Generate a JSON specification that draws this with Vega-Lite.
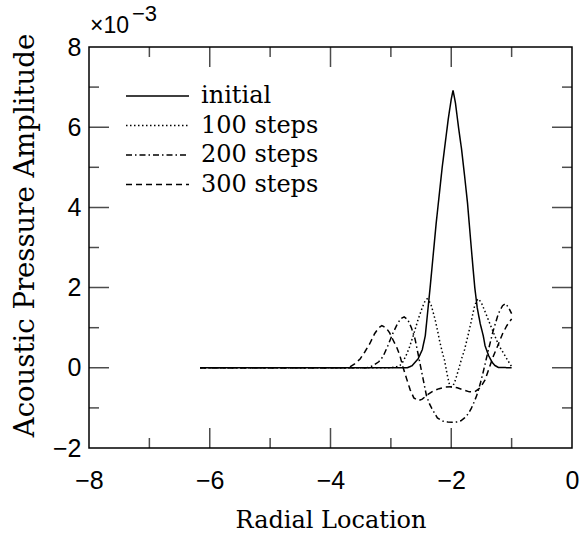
{
  "$schema": "https://vega.github.io/schema/vega-lite/v6.json",
  "width": 483,
  "height": 401,
  "autosize": {"type": "none"},
  "padding": {"left": 89, "top": 47, "right": 9, "bottom": 91},
  "background": "white",
  "config": {
    "view": {"stroke": "black", "strokeWidth": 1.5},
    "axis": {"domain": false, "grid": false, "tickColor": "black", "labelColor": "black", "titleColor": "black", "tickWidth": 1.5}
  },
  "datasets": {
    "xticks": [{"at": -7}, {"at": -6}, {"at": -5}, {"at": -4}, {"at": -3}, {"at": -2}, {"at": -1}],
    "yticks": [{"at": -1}, {"at": 0}, {"at": 1}, {"at": 2}, {"at": 3}, {"at": 4}, {"at": 5}, {"at": 6}, {"at": 7}]
  },
  "data": {"values": [
    {"series": "initial", "location": -6.16, "amplitude": 0},
    {"series": "initial", "location": -4, "amplitude": 0},
    {"series": "initial", "location": -2.73, "amplitude": 0},
    {"series": "initial", "location": -2.65, "amplitude": 0.05},
    {"series": "initial", "location": -2.55, "amplitude": 0.22},
    {"series": "initial", "location": -2.48, "amplitude": 0.45},
    {"series": "initial", "location": -2.43, "amplitude": 0.8},
    {"series": "initial", "location": -2.39, "amplitude": 1.4},
    {"series": "initial", "location": -2.35, "amplitude": 2.0},
    {"series": "initial", "location": -2.3, "amplitude": 2.8},
    {"series": "initial", "location": -2.25, "amplitude": 3.6},
    {"series": "initial", "location": -2.2, "amplitude": 4.3},
    {"series": "initial", "location": -2.15, "amplitude": 5.0},
    {"series": "initial", "location": -2.1, "amplitude": 5.6},
    {"series": "initial", "location": -2.05, "amplitude": 6.2},
    {"series": "initial", "location": -2.0, "amplitude": 6.7},
    {"series": "initial", "location": -1.97, "amplitude": 6.92},
    {"series": "initial", "location": -1.93, "amplitude": 6.6},
    {"series": "initial", "location": -1.88, "amplitude": 6.0},
    {"series": "initial", "location": -1.83, "amplitude": 5.46},
    {"series": "initial", "location": -1.78, "amplitude": 4.8},
    {"series": "initial", "location": -1.73, "amplitude": 4.1},
    {"series": "initial", "location": -1.68, "amplitude": 3.2},
    {"series": "initial", "location": -1.64, "amplitude": 2.5},
    {"series": "initial", "location": -1.61, "amplitude": 2.0},
    {"series": "initial", "location": -1.57, "amplitude": 1.5},
    {"series": "initial", "location": -1.52, "amplitude": 1.1},
    {"series": "initial", "location": -1.47, "amplitude": 0.8},
    {"series": "initial", "location": -1.44, "amplitude": 0.55},
    {"series": "initial", "location": -1.38, "amplitude": 0.3},
    {"series": "initial", "location": -1.32, "amplitude": 0.13},
    {"series": "initial", "location": -1.28, "amplitude": 0.06},
    {"series": "initial", "location": -1.22, "amplitude": 0.01},
    {"series": "initial", "location": -1.0, "amplitude": 0},

    {"series": "100 steps", "location": -6.16, "amplitude": 0},
    {"series": "100 steps", "location": -4, "amplitude": 0},
    {"series": "100 steps", "location": -3, "amplitude": 0},
    {"series": "100 steps", "location": -2.92, "amplitude": 0.02},
    {"series": "100 steps", "location": -2.85, "amplitude": 0.06},
    {"series": "100 steps", "location": -2.8, "amplitude": 0.15},
    {"series": "100 steps", "location": -2.75, "amplitude": 0.3},
    {"series": "100 steps", "location": -2.7, "amplitude": 0.48},
    {"series": "100 steps", "location": -2.63, "amplitude": 0.8},
    {"series": "100 steps", "location": -2.55, "amplitude": 1.2},
    {"series": "100 steps", "location": -2.48, "amplitude": 1.5},
    {"series": "100 steps", "location": -2.43, "amplitude": 1.68},
    {"series": "100 steps", "location": -2.4, "amplitude": 1.72},
    {"series": "100 steps", "location": -2.37, "amplitude": 1.68},
    {"series": "100 steps", "location": -2.33, "amplitude": 1.55},
    {"series": "100 steps", "location": -2.27, "amplitude": 1.22},
    {"series": "100 steps", "location": -2.23, "amplitude": 0.95},
    {"series": "100 steps", "location": -2.19, "amplitude": 0.65},
    {"series": "100 steps", "location": -2.15, "amplitude": 0.4},
    {"series": "100 steps", "location": -2.11, "amplitude": 0.18},
    {"series": "100 steps", "location": -2.07, "amplitude": -0.15},
    {"series": "100 steps", "location": -2.03, "amplitude": -0.42},
    {"series": "100 steps", "location": -2.0, "amplitude": -0.48},
    {"series": "100 steps", "location": -1.97, "amplitude": -0.45},
    {"series": "100 steps", "location": -1.93, "amplitude": -0.3},
    {"series": "100 steps", "location": -1.88, "amplitude": -0.05},
    {"series": "100 steps", "location": -1.83, "amplitude": 0.22},
    {"series": "100 steps", "location": -1.78, "amplitude": 0.45},
    {"series": "100 steps", "location": -1.72, "amplitude": 0.82},
    {"series": "100 steps", "location": -1.67, "amplitude": 1.15},
    {"series": "100 steps", "location": -1.62, "amplitude": 1.5},
    {"series": "100 steps", "location": -1.58, "amplitude": 1.68},
    {"series": "100 steps", "location": -1.55, "amplitude": 1.72},
    {"series": "100 steps", "location": -1.5, "amplitude": 1.62},
    {"series": "100 steps", "location": -1.44, "amplitude": 1.4},
    {"series": "100 steps", "location": -1.36, "amplitude": 1.1},
    {"series": "100 steps", "location": -1.28, "amplitude": 0.8},
    {"series": "100 steps", "location": -1.21, "amplitude": 0.55},
    {"series": "100 steps", "location": -1.14, "amplitude": 0.38},
    {"series": "100 steps", "location": -1.07, "amplitude": 0.2},
    {"series": "100 steps", "location": -1.0, "amplitude": 0.03},

    {"series": "200 steps", "location": -6.16, "amplitude": 0},
    {"series": "200 steps", "location": -4, "amplitude": 0},
    {"series": "200 steps", "location": -3.4, "amplitude": 0},
    {"series": "200 steps", "location": -3.3, "amplitude": 0.05},
    {"series": "200 steps", "location": -3.2, "amplitude": 0.15},
    {"series": "200 steps", "location": -3.13, "amplitude": 0.28},
    {"series": "200 steps", "location": -3.05, "amplitude": 0.55},
    {"series": "200 steps", "location": -2.97, "amplitude": 0.85},
    {"series": "200 steps", "location": -2.9, "amplitude": 1.07},
    {"series": "200 steps", "location": -2.84, "amplitude": 1.22},
    {"series": "200 steps", "location": -2.78, "amplitude": 1.27},
    {"series": "200 steps", "location": -2.72, "amplitude": 1.2},
    {"series": "200 steps", "location": -2.66, "amplitude": 1.0},
    {"series": "200 steps", "location": -2.6, "amplitude": 0.72},
    {"series": "200 steps", "location": -2.55, "amplitude": 0.35},
    {"series": "200 steps", "location": -2.51, "amplitude": 0.05},
    {"series": "200 steps", "location": -2.47, "amplitude": -0.25},
    {"series": "200 steps", "location": -2.41, "amplitude": -0.7},
    {"series": "200 steps", "location": -2.36, "amplitude": -0.9},
    {"series": "200 steps", "location": -2.32, "amplitude": -1.02},
    {"series": "200 steps", "location": -2.23, "amplitude": -1.25},
    {"series": "200 steps", "location": -2.14, "amplitude": -1.33},
    {"series": "200 steps", "location": -2.06, "amplitude": -1.35},
    {"series": "200 steps", "location": -1.98, "amplitude": -1.36},
    {"series": "200 steps", "location": -1.9, "amplitude": -1.35},
    {"series": "200 steps", "location": -1.84, "amplitude": -1.32},
    {"series": "200 steps", "location": -1.78, "amplitude": -1.25},
    {"series": "200 steps", "location": -1.72, "amplitude": -1.15},
    {"series": "200 steps", "location": -1.67, "amplitude": -1.02},
    {"series": "200 steps", "location": -1.62, "amplitude": -0.85},
    {"series": "200 steps", "location": -1.58, "amplitude": -0.7},
    {"series": "200 steps", "location": -1.52, "amplitude": -0.4},
    {"series": "200 steps", "location": -1.47, "amplitude": -0.1},
    {"series": "200 steps", "location": -1.4, "amplitude": 0.35},
    {"series": "200 steps", "location": -1.31, "amplitude": 0.9},
    {"series": "200 steps", "location": -1.22, "amplitude": 1.35},
    {"series": "200 steps", "location": -1.15, "amplitude": 1.55},
    {"series": "200 steps", "location": -1.1, "amplitude": 1.6},
    {"series": "200 steps", "location": -1.05, "amplitude": 1.5},
    {"series": "200 steps", "location": -1.0, "amplitude": 1.35},

    {"series": "300 steps", "location": -6.16, "amplitude": 0},
    {"series": "300 steps", "location": -4, "amplitude": 0},
    {"series": "300 steps", "location": -3.75, "amplitude": 0},
    {"series": "300 steps", "location": -3.68, "amplitude": 0.02},
    {"series": "300 steps", "location": -3.6, "amplitude": 0.1},
    {"series": "300 steps", "location": -3.51, "amplitude": 0.22},
    {"series": "300 steps", "location": -3.43, "amplitude": 0.4},
    {"series": "300 steps", "location": -3.35, "amplitude": 0.6},
    {"series": "300 steps", "location": -3.27, "amplitude": 0.85},
    {"series": "300 steps", "location": -3.2, "amplitude": 1.0},
    {"series": "300 steps", "location": -3.15, "amplitude": 1.05},
    {"series": "300 steps", "location": -3.08, "amplitude": 1.0},
    {"series": "300 steps", "location": -3.02, "amplitude": 0.87},
    {"series": "300 steps", "location": -2.96, "amplitude": 0.68},
    {"series": "300 steps", "location": -2.9, "amplitude": 0.5},
    {"series": "300 steps", "location": -2.85, "amplitude": 0.3},
    {"series": "300 steps", "location": -2.8, "amplitude": 0.02},
    {"series": "300 steps", "location": -2.74, "amplitude": -0.27},
    {"series": "300 steps", "location": -2.68, "amplitude": -0.55},
    {"series": "300 steps", "location": -2.62, "amplitude": -0.75},
    {"series": "300 steps", "location": -2.55, "amplitude": -0.82},
    {"series": "300 steps", "location": -2.48, "amplitude": -0.78},
    {"series": "300 steps", "location": -2.4, "amplitude": -0.68},
    {"series": "300 steps", "location": -2.3, "amplitude": -0.58},
    {"series": "300 steps", "location": -2.2, "amplitude": -0.52},
    {"series": "300 steps", "location": -2.1, "amplitude": -0.48},
    {"series": "300 steps", "location": -2.0, "amplitude": -0.47},
    {"series": "300 steps", "location": -1.9, "amplitude": -0.5},
    {"series": "300 steps", "location": -1.8, "amplitude": -0.55},
    {"series": "300 steps", "location": -1.7, "amplitude": -0.6},
    {"series": "300 steps", "location": -1.61, "amplitude": -0.6},
    {"series": "300 steps", "location": -1.52, "amplitude": -0.5},
    {"series": "300 steps", "location": -1.44, "amplitude": -0.3},
    {"series": "300 steps", "location": -1.37, "amplitude": 0.0},
    {"series": "300 steps", "location": -1.3, "amplitude": 0.3},
    {"series": "300 steps", "location": -1.23, "amplitude": 0.55},
    {"series": "300 steps", "location": -1.15, "amplitude": 0.85},
    {"series": "300 steps", "location": -1.08, "amplitude": 1.05},
    {"series": "300 steps", "location": -1.0, "amplitude": 1.22}
  ]},
  "resolve": {"scale": {"x": "independent", "y": "independent"}, "axis": {"x": "independent", "y": "independent"}},
  "layer": [
    {
      "mark": {"type": "line", "color": "black", "strokeWidth": 1.5},
      "encoding": {
        "x": {"field": "location", "type": "quantitative", "scale": {"domain": [-8, 0], "nice": false, "zero": false},
          "axis": {"orient": "bottom", "values": [-8, -6, -4, -2, 0], "ticks": false, "labelFont": "Liberation Sans", "labelFontSize": 25, "labelPadding": 20, "labelFlush": false,
            "title": "Radial Location", "titleFont": "DejaVu Serif", "titleFontSize": 24, "titleFontWeight": "normal", "titlePadding": 15}},
        "y": {"field": "amplitude", "type": "quantitative", "scale": {"domain": [-2, 8], "nice": false, "zero": false},
          "axis": {"orient": "left", "values": [-2, 0, 2, 4, 6, 8], "ticks": false, "labelFont": "Liberation Sans", "labelFontSize": 25, "labelPadding": 8, "labelFlush": false,
            "title": "Acoustic Pressure Amplitude", "titleFont": "DejaVu Serif", "titleFontSize": 27.5, "titleFontWeight": "normal", "titlePadding": 13, "titleY": 188}},
        "strokeDash": {"field": "series", "type": "nominal",
          "scale": {"domain": ["initial", "100 steps", "200 steps", "300 steps"], "range": [[1, 0], [1.5, 2.5], [6, 3, 1.5, 3], [6, 4]]},
          "legend": {"orient": "none", "legendX": 52.5, "legendY": 33, "title": null, "padding": 0, "symbolType": "M-2.1,0H2.1", "symbolSize": 900, "symbolStrokeWidth": 1.5, "symbolStrokeColor": "black", "symbolFillColor": "transparent", "labelFont": "DejaVu Serif", "labelFontSize": 24, "labelColor": "black", "labelOffset": 27.5, "rowPadding": 1.5}}
      }
    },
    {
      "data": {"name": "xticks"},
      "mark": {"type": "tick", "orient": "vertical", "color": "black", "thickness": 1.5, "clip": true},
      "encoding": {
        "x": {"field": "at", "type": "quantitative", "scale": {"domain": [-8, 0], "nice": false, "zero": false}, "axis": null},
        "y": {"datum": -2, "type": "quantitative", "scale": {"domain": [-2, 8], "nice": false, "zero": false}, "axis": null},
        "size": {"condition": {"test": "datum.at % 2 === 0", "value": 40}, "value": 20}
      }
    },
    {
      "data": {"name": "xticks"},
      "mark": {"type": "tick", "orient": "vertical", "color": "black", "thickness": 1.5, "clip": true},
      "encoding": {
        "x": {"field": "at", "type": "quantitative", "scale": {"domain": [-8, 0], "nice": false, "zero": false}, "axis": null},
        "y": {"datum": 8, "type": "quantitative", "scale": {"domain": [-2, 8], "nice": false, "zero": false}, "axis": null},
        "size": {"condition": {"test": "datum.at % 2 === 0", "value": 40}, "value": 20}
      }
    },
    {
      "data": {"name": "yticks"},
      "mark": {"type": "tick", "orient": "horizontal", "color": "black", "thickness": 1.5, "clip": true},
      "encoding": {
        "y": {"field": "at", "type": "quantitative", "scale": {"domain": [-2, 8], "nice": false, "zero": false}, "axis": null},
        "x": {"datum": -8, "type": "quantitative", "scale": {"domain": [-8, 0], "nice": false, "zero": false}, "axis": null},
        "size": {"condition": {"test": "datum.at % 2 === 0", "value": 40}, "value": 20}
      }
    },
    {
      "data": {"name": "yticks"},
      "mark": {"type": "tick", "orient": "horizontal", "color": "black", "thickness": 1.5, "clip": true},
      "encoding": {
        "y": {"field": "at", "type": "quantitative", "scale": {"domain": [-2, 8], "nice": false, "zero": false}, "axis": null},
        "x": {"datum": 0, "type": "quantitative", "scale": {"domain": [-8, 0], "nice": false, "zero": false}, "axis": null},
        "size": {"condition": {"test": "datum.at % 2 === 0", "value": 40}, "value": 20}
      }
    },
    {
      "data": {"values": [{}]},
      "mark": {"type": "text", "align": "left", "baseline": "alphabetic", "font": "Liberation Sans", "fontSize": 23, "color": "black", "dx": 1, "dy": -14},
      "encoding": {
        "x": {"datum": -8, "type": "quantitative", "scale": {"domain": [-8, 0], "nice": false, "zero": false}, "axis": null},
        "y": {"datum": 8, "type": "quantitative", "scale": {"domain": [-2, 8], "nice": false, "zero": false}, "axis": null},
        "text": {"value": "×10"}
      }
    },
    {
      "data": {"values": [{}]},
      "mark": {"type": "text", "align": "left", "baseline": "alphabetic", "font": "Liberation Sans", "fontSize": 22, "color": "black", "dx": 43, "dy": -26},
      "encoding": {
        "x": {"datum": -8, "type": "quantitative", "scale": {"domain": [-8, 0], "nice": false, "zero": false}, "axis": null},
        "y": {"datum": 8, "type": "quantitative", "scale": {"domain": [-2, 8], "nice": false, "zero": false}, "axis": null},
        "text": {"value": "−3"}
      }
    }
  ]
}
